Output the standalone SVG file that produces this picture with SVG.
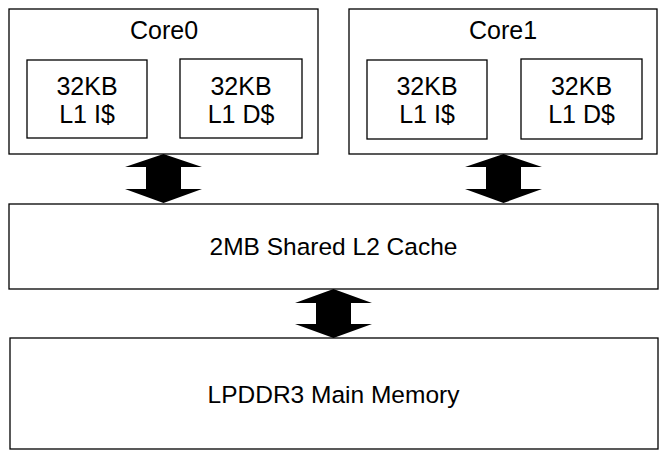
<svg xmlns="http://www.w3.org/2000/svg" width="665" height="455" viewBox="0 0 665 455">
<style>
.box{fill:#fff;stroke:#000;stroke-width:1.3}
.t{font-family:"Liberation Sans",Arial,sans-serif;font-size:25px;fill:#000;text-anchor:middle}
.w{font-size:24.5px}
.arr{fill:#000;stroke:none}
</style>
<rect width="665" height="455" fill="#fff"/>
<g id="core0">
<rect class="box" x="9" y="9" width="309" height="145"/>
<text class="t" x="164" y="39">Core0</text>
</g>
<g id="core0-l1i">
<rect class="box" x="27" y="60" width="120" height="78"/>
<text class="t" x="87" y="95">32KB</text>
<text class="t" x="87" y="123">L1 I$</text>
</g>
<g id="core0-l1d">
<rect class="box" x="180" y="59" width="122" height="79"/>
<text class="t" x="241" y="95">32KB</text>
<text class="t" x="241" y="123">L1 D$</text>
</g>
<g id="core1">
<rect class="box" x="349" y="9" width="308" height="145"/>
<text class="t" x="503" y="39">Core1</text>
</g>
<g id="core1-l1i">
<rect class="box" x="367" y="60" width="120" height="79"/>
<text class="t" x="427" y="95">32KB</text>
<text class="t" x="427" y="123">L1 I$</text>
</g>
<g id="core1-l1d">
<rect class="box" x="521" y="59" width="121" height="80"/>
<text class="t" x="581.5" y="95">32KB</text>
<text class="t" x="581.5" y="123">L1 D$</text>
</g>
<g id="l2">
<rect class="box" x="9" y="204" width="649" height="85"/>
<text class="t w" x="333.5" y="255">2MB Shared L2 Cache</text>
</g>
<g id="memory">
<rect class="box" x="10" y="338" width="648" height="111"/>
<text class="t w" x="333.5" y="403">LPDDR3 Main Memory</text>
</g>
<g id="connectors">
<polygon class="arr" points="163.5,154 202,167 181,167 181,189 202,189 163.5,203 125,189 146,189 146,167 125,167"/>
<polygon class="arr" points="503.5,154 542,167 521,167 521,189 542,189 503.5,203 465,189 486,189 486,167 465,167"/>
<polygon class="arr" points="333.5,289 372,303 351,303 351,324 372,324 333.5,338 295,324 316,324 316,303 295,303"/>
</g>
</svg>
